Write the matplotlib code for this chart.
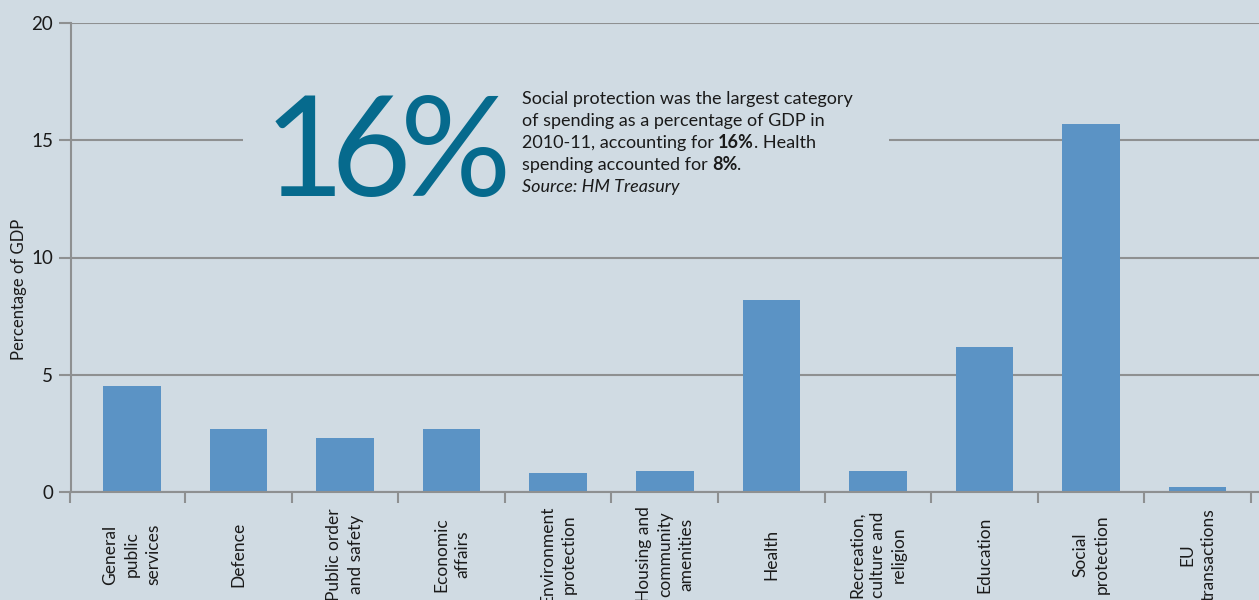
import matplotlib
matplotlib.use("Agg")
import matplotlib.pyplot as plt
from matplotlib.patches import Rectangle
from matplotlib.transforms import blended_transform_factory

# data (HM Treasury, 2010-11, % of GDP)
categories = ["General\npublic\nservices", "Defence", "Public order\nand safety",
              "Economic\naffairs", "Environment\nprotection",
              "Housing and\ncommunity\namenities", "Health",
              "Recreation,\nculture and\nreligion", "Education",
              "Social\nprotection", "EU\ntransactions"]
gdp_share = [4.5, 2.7, 2.3, 2.7, 0.8, 0.9, 8.2, 0.9, 6.2, 15.7, 0.2]
y_ticks = [0, 5, 10, 15, 20]

BG = "#d0dbe3"
BAR = "#5b93c5"
LINE = "#8e9091"
TEAL = "#066a8d"
TXT = "#1a1a1a"

plt.rcParams["font.family"] = ["Lato", "DejaVu Sans"]

W, H = 1259, 600
fig = plt.figure(figsize=(W / 100, H / 100), dpi=100, facecolor=BG)
ax = fig.add_axes([70.5 / W, 108 / H, 1188.5 / W, 469 / H])
ax.set_facecolor(BG)

x = list(range(len(categories)))
ax.bar(x, gdp_share, width=0.54, color=BAR, zorder=2)
ax.set_xlim(-0.575, len(categories) - 0.425)
ax.set_ylim(0, 20)

# grid + break in the 15 line behind the call-out
ax.set_yticks(y_ticks)
ax.yaxis.grid(True, color=LINE, lw=1.5)
ax.set_axisbelow(True)
gap = Rectangle((0.145, 13.5), 0.544, 3, facecolor=BG, edgecolor="none", zorder=1,
                transform=blended_transform_factory(ax.transAxes, ax.transData))
ax.add_patch(gap)

for s in ["top", "right"]:
    ax.spines[s].set_visible(False)
for s in ["left", "bottom"]:
    ax.spines[s].set_color(LINE)
    ax.spines[s].set_linewidth(1.5)

ax.tick_params(axis="y", length=8.6, width=1.5, color=LINE, pad=4, labelsize=13.5,
               labelcolor=TXT)
ax.set_xticks(x, categories, rotation=90, va="center", ha="center",
              multialignment="center", linespacing=1.4, fontsize=12.5, color=TXT)
ax.tick_params(axis="x", which="major", length=0, pad=45)
ax.set_xticks([-0.575] + [i + 0.5 for i in x], minor=True)
ax.tick_params(axis="x", which="minor", length=8, width=1.5, color=LINE)

ax.set_ylabel("Percentage of GDP", fontsize=12, color=TXT, va="center")
ax.yaxis.set_label_coords((19 - 70.5) / 1188.5, (492 - 289.5) / 469)

# call-out: big figure, set tight character by character
big = dict(fontsize=100, color=TEAL, va="baseline", ha="left")
c1 = fig.text(264 / W, (600 - 196) / H, "1", **big)
c2 = ax.annotate("6", xy=(1, 0), xycoords=c1, xytext=(-10, 0), textcoords="offset points",
                 fontsize=100, color=TEAL, va="bottom", ha="left")
ax.annotate("%", xy=(1, 0), xycoords=c2, xytext=(-8, 0), textcoords="offset points",
            fontsize=100, color=TEAL, va="bottom", ha="left")

px = 522 / W
kw = dict(fontsize=13, color=TXT, va="baseline")
fig.text(px, (600 - 104) / H, "Social protection was the largest category", **kw)
fig.text(px, (600 - 126) / H, "of spending as a percentage of GDP in", **kw)
t = fig.text(px, (600 - 148) / H, "2010-11, accounting for", **kw)
b = ax.annotate("16%", xy=(1, 0), xycoords=t, xytext=(3, 0), textcoords="offset points",
                fontsize=13, color=TXT, fontweight="bold", va="bottom", ha="left")
ax.annotate(". Health", xy=(1, 0), xycoords=b, fontsize=13, color=TXT, va="bottom", ha="left")
t = fig.text(px, (600 - 170) / H, "spending accounted for", **kw)
b = ax.annotate("8%", xy=(1, 0), xycoords=t, xytext=(3, 0), textcoords="offset points",
                fontsize=13, color=TXT, fontweight="bold", va="bottom", ha="left")
ax.annotate(".", xy=(1, 0), xycoords=b, fontsize=13, color=TXT, va="bottom", ha="left")
fig.text(px, (600 - 192) / H, "Source: HM Treasury", fontsize=13, color=TXT,
         style="italic", va="baseline")

fig.savefig("out.png", dpi=100, facecolor=BG)
